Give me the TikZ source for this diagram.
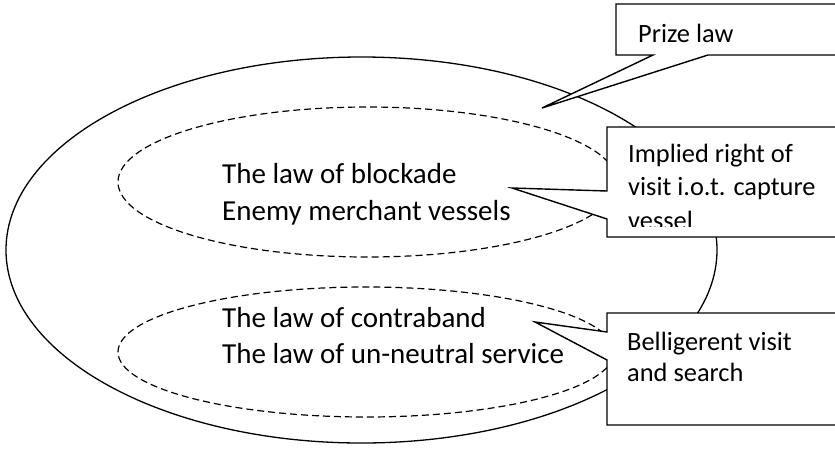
\documentclass[tikz,border=0pt]{standalone}
\usepackage{fontspec}
\setmainfont{Carlito}
\begin{document}
\begin{tikzpicture}[x=1pt, y=-1pt,
		law/.style={anchor=base west, inner sep=0pt, font=\fontsize{29}{37}\selectfont},
		note/.style={anchor=base west, inner sep=0pt, font=\fontsize{26.4}{33}\selectfont},
		field/.style={line width=1.2pt, dash pattern=on 7pt off 4pt},
		bubble/.style={draw, fill=white, line width=1.4pt, line join=miter}]
		\useasboundingbox (0,0) rectangle (835,448);
		\clip (0,0) rectangle (835,448);
		
		\draw[line width=1.3pt] (361.5,250) ellipse [x radius=355.5pt, y radius=193pt];
		\draw[field] (367.5,182) ellipse [x radius=249.5pt, y radius=75pt];
		\draw[field] (366,352) ellipse [x radius=248pt, y radius=65pt];
		
		\node[law] (blockade) 	at (222,183) {The law of blockade};
		\node[law] (enemy) 		at (222,220) {Enemy merchant vessels};
		\node[law] (contraband) at (222,327) {The law of contraband};
		\node[law] (unneutral) 	at (222,363) {The law of un-neutral service};
		
		% callouts
		\draw[bubble] (616,4) -- (840,4) -- (840,55) -- (708,55) -- (542,108) -- (653,55) -- (616,55) -- cycle;
		\node[note] (prize) at (638,42) {Prize law};
		
		\draw[bubble] (607,127) -- (840,127) -- (840,237) -- (607,237) -- (607,219) -- (512,188) -- (607,191) -- cycle;
		\begin{scope}
			\clip (607,127) rectangle (840,226);
			\node[note] (implied) 	at (628,162) {Implied right of};
			\node[note] (visit) 	at (628,195) {visit i.o.t. capture};
			\node[note] (vessel) 	at (628,229) {vessel};
		\end{scope}
		
		\draw[bubble] (607,313) -- (840,313) -- (840,425) -- (607,425) -- (607,360) -- (535,322) -- (607,332) -- cycle;
		\node[note] (belligerent) 	at (627,350) {Belligerent visit};
		\node[note] (search) 		at (627,381) {and search};
\end{tikzpicture}
\end{document}
